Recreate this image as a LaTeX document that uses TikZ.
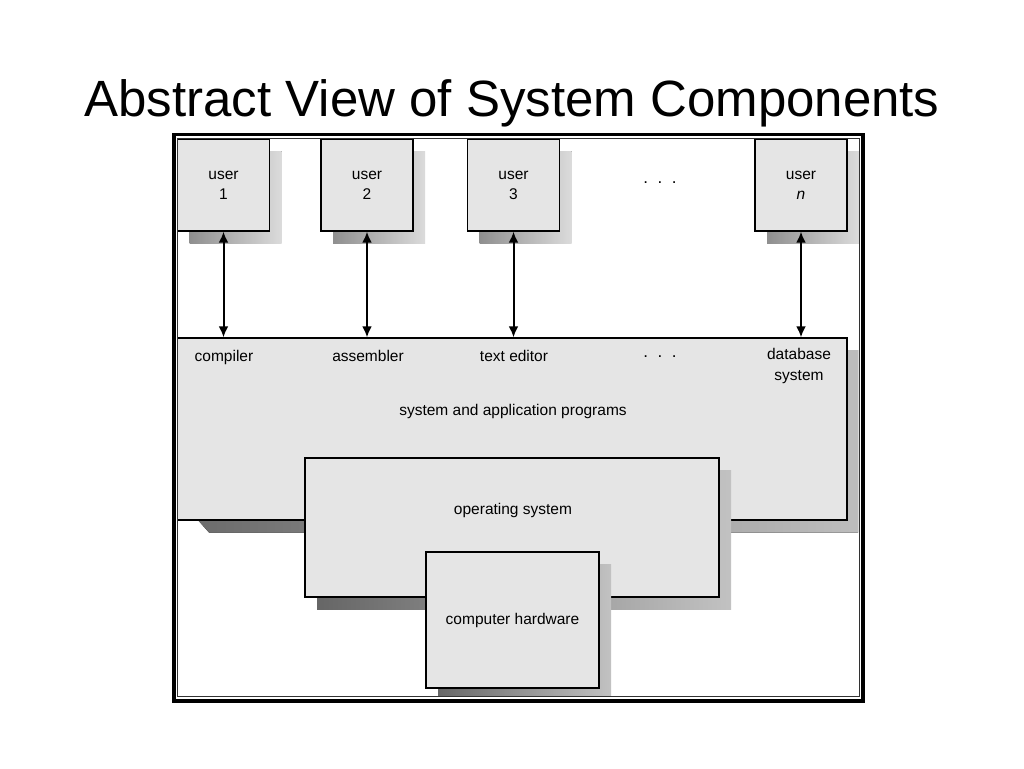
\documentclass[tikz,border=0pt]{standalone}
\usepackage{fontspec}
\setmainfont{Liberation Sans}
\usetikzlibrary{arrows.meta, shadows, calc, positioning}
\tikzset{
    compBox/.style={rectangle, draw, line width=1.4pt, fill=black!10, inner sep=0pt, align=center, font=\fontsize{15.5}{20}\selectfont},
    boxShadow/.style={drop shadow={shadow xshift=12pt, shadow yshift=-12pt, opacity=1, left color=black!60, right color=black!24}},
    userShadow/.style={drop shadow={shadow xshift=12pt, shadow yshift=-12pt, opacity=1, left color=black!44, right color=black!14}},
    userBox/.style={compBox, userShadow, minimum width=92pt, minimum height=92pt},
    tagText/.style={font=\fontsize{15.5}{21}\selectfont, align=center, inner sep=0pt},
    dotText/.style={font=\fontsize{17}{21}\selectfont, inner sep=0pt},
    userLink/.style={<->, >={Latex[length=11pt, width=10pt]}, line width=2pt},
}

\begin{document}
\begin{tikzpicture}[x=1pt, y=-1pt]
    \useasboundingbox[fill=white] (0,0) rectangle (1024,768);

    \node[font=\fontsize{51}{60}\selectfont, anchor=base] (title) at (512,116) {Abstract View of System Components};

    \begin{scope}
        \clip (177.5,138) rectangle (859.5,696.5);

        % users
        \node[userBox] (u1) at (223.5,185) {user\\1};
        \node[userBox] (u2) at (367,185) {user\\2};
        \node[userBox] (u3) at (513.5,185) {user\\3};
        \node[userBox] (un) at (801,185) {user\\\textit{n}};
        \node[dotText] (topDots) at (660,183) {.\ \ .\ \ .};

        % programs layer, slanted shadow first
        \fill[left color=black!58, right color=black!26] (189,510) -- (209,532.5) -- (858,532.5) -- (858,350) -- (840,350) -- (840,510) -- cycle;
        \node[compBox, minimum width=670pt, minimum height=182pt] (apps) at (512,429) {};
        \node[tagText, anchor=base] (compiler) at (224,361) {compiler};
        \node[tagText, anchor=base] (assembler) at (368,361) {assembler};
        \node[tagText, anchor=base] (editor) at (514,361) {text editor};
        \node[dotText] (midDots) at (660,357) {.\ \ .\ \ .};
        \node[tagText] (dbase) at (799,366) {database\\system};
        \node[tagText, anchor=base] (appsLbl) at (513,415) {system and application programs};

        % operating system and hardware
        \node[compBox, boxShadow, minimum width=414pt, minimum height=139pt] (os) at (512,527.5) {};
        \node[tagText, anchor=base] (osLbl) at (513,514) {operating system};
        \node[compBox, boxShadow, minimum width=173pt, minimum height=136pt] (hw) at (512.5,620) {computer hardware};
    \end{scope}

    % frame
    \draw[line width=3.5pt] (174,134.5) rectangle (863,701);
    \draw[line width=1pt, black!80] (177.5,138) rectangle (859.5,696.5);

    % links
    \draw[userLink] (u1.south) -- (u1.south |- apps.north);
    \draw[userLink] (u2.south) -- (u2.south |- apps.north);
    \draw[userLink] (u3.south) -- (u3.south |- apps.north);
    \draw[userLink] (un.south) -- (un.south |- apps.north);

\end{tikzpicture}
\end{document}
